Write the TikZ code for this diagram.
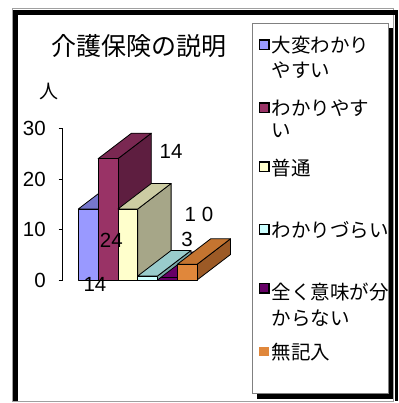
\documentclass[tikz,border=0pt]{standalone}
\usepackage{fontspec}
\setmainfont{Liberation Sans}
\newfontfamily\jp{Noto Sans CJK JP}
\definecolor{cblue}{HTML}{9999FF}
\definecolor{cbluetop}{HTML}{7777CC}
\definecolor{cmar}{HTML}{993366}
\definecolor{cmartop}{HTML}{7A2852}
\definecolor{cmarside}{HTML}{5E1E40}
\definecolor{ccream}{HTML}{FFFFCC}
\definecolor{ccreamtop}{HTML}{CCCCA3}
\definecolor{ccreamside}{HTML}{A6A688}
\definecolor{ccyan}{HTML}{CCFFFF}
\definecolor{ccyantop}{HTML}{99CCCC}
\definecolor{ccyanside}{HTML}{7AA8A8}
\definecolor{cpur}{HTML}{660066}
\definecolor{corg}{HTML}{E0873B}
\definecolor{corgtop}{HTML}{C47430}
\definecolor{corgside}{HTML}{9C5A26}
\definecolor{frame}{HTML}{A0A0A0}
\def\cdx{33.4}
\def\cdy{-25.5}
\def\cw{19.8}
\newcommand\colbar[5]{%
  \filldraw[fill=#5,barline] (#1+\cw,#2) -- ++(\cdx,\cdy) -- (#1+\cw+\cdx,280+\cdy) -- (#1+\cw,280) -- cycle;
  \filldraw[fill=#4,barline] (#1,#2) -- ++(\cdx,\cdy) -- ++(\cw,0) -- (#1+\cw,#2) -- cycle;
  \filldraw[fill=#3,barline] (#1,#2) rectangle (#1+\cw,280);
}
\tikzset{
  barline/.style={draw=black,line width=0.8pt,line join=round},
  num/.style={font=\fontsize{20.5}{20.5}\selectfont,inner sep=0pt},
  legtext/.style={font=\jp\fontsize{19.5}{26}\selectfont,inner sep=0pt,anchor=west},
  legmark/.style={draw=black,line width=1.6pt}
}
\begin{document}
\begin{tikzpicture}[x=1pt,y=-1pt]
\useasboundingbox (0,0) rectangle (398,403);
% outer frame
\draw[frame,line width=0.8pt] (12.5,8.4) rectangle (393.5,401.6);
\fill[black] (13,10) rectangle (18,401);
\fill[black] (13,10) rectangle (398,14.8);
\fill[black] (394.6,10) rectangle (398,401);
% title
\node[font=\jp\fontsize{25}{25}\selectfont,inner sep=0pt] (title) at (138.5,46) {介護保険の説明};
\node[font=\jp\fontsize{19}{19}\selectfont,inner sep=0pt] (unit) at (49,91) {人};
% axis
\draw[black,line width=0.9pt] (62.7,128.3) -- (62.7,280);
\foreach \v/\yy in {30/128.3,20/179,10/229.3,0/280}{
  \draw[black,line width=0.9pt] (58.5,\yy) -- (62.7,\yy);
  \node[num,anchor=east] (t\v) at (46,\yy) {\v};
}
% bars
\colbar{78.3}{209}{cblue}{cbluetop}{cbluetop}
\colbar{98.1}{158.7}{cmar}{cmartop}{cmarside}
\colbar{117.9}{209}{ccream}{ccreamtop}{ccreamside}
\colbar{157.5}{277.5}{cpur}{cpur}{cpur}
\colbar{137.7}{276}{ccyan}{ccyantop}{ccyanside}
\colbar{177.3}{264.3}{corg}{corgtop}{corgside}
% data labels
\node[num] (l1) at (95,284) {14};
\node[num] (l2) at (111.3,240) {24};
\node[num] (l3) at (171,151.7) {14};
\node[num] (l4) at (199,214.3) {1\hspace{6pt}0};
\node[num] (l5) at (187,239) {3};
% legend
\fill[black] (257,28) rectangle (393,399);
\filldraw[fill=white,draw=gray,line width=0.8pt] (252,23) rectangle (388,393.5);
\filldraw[legmark,fill=cblue] (259.3,40.3) rectangle (269,49.7);
\filldraw[legmark,fill=cmar] (259.3,103.3) rectangle (269,112.7);
\filldraw[legmark,fill=ccream] (259.3,162) rectangle (269,171.4);
\filldraw[legmark,fill=ccyan] (259.3,224.3) rectangle (269,233.7);
\filldraw[legmark,fill=cpur] (259.3,283.3) rectangle (269,292.7);
\fill[corg] (259,346.7) rectangle (269,356.3);
\node[legtext] (g1a) at (271.5,45) {大変わかり};
\node[legtext] (g1b) at (271.5,70.5) {やすい};
\node[legtext] (g2a) at (271.5,108.5) {わかりやす};
\node[legtext] (g2b) at (271.5,131) {い};
\node[legtext] (g3) at (271.5,168) {普通};
\node[legtext] (g4) at (271.5,230.5) {わかりづらい};
\node[legtext] (g5a) at (271.5,292) {全く意味が分};
\node[legtext] (g5b) at (271.5,318) {からない};
\node[legtext] (g6) at (271.5,352.5) {無記入};
\end{tikzpicture}
\end{document}
